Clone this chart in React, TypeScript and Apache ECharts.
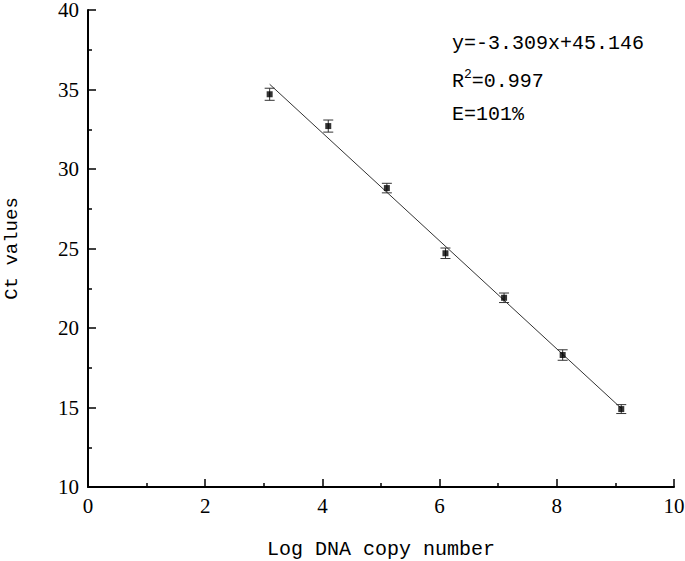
import React, { useEffect, useRef } from "react";
import * as echarts from "echarts";

const logCopies = [3.1, 4.1, 5.1, 6.1, 7.1, 8.1, 9.1];
const ctValues = [34.7, 32.7, 28.8, 24.7, 21.9, 18.3, 14.9];
const ctErrors = [0.38, 0.38, 0.3, 0.33, 0.3, 0.33, 0.28];
const fitX = [3.1, 9.1];
const fitY = [35.33, 14.95];
const annotationLines = ["y=-3.309x+45.146", "R2=0.997", "E=101%"];

export default function App() {
  const ref = useRef<HTMLDivElement>(null);
  useEffect(() => {
    if (!ref.current) return;
    const chart = echarts.init(ref.current, null, { renderer: "svg" });
    const points = logCopies.map((x, i) => [x, ctValues[i]]);
    const errData = logCopies.map((x, i) => [x, ctValues[i] - ctErrors[i], ctValues[i] + ctErrors[i]]);
    const monoFont = "Liberation Mono";
    const serifFont = "Liberation Serif";
    chart.setOption({
      animation: false,
      backgroundColor: "#ffffff",
      grid: { left: 88, top: 10, right: 11, bottom: 74, containLabel: false, outerBoundsMode: "none" },
      xAxis: {
        type: "value",
        min: 0,
        max: 10,
        interval: 2,
        name: "Log DNA copy number",
        nameLocation: "middle",
        nameGap: 52,
        nameTextStyle: { fontFamily: monoFont, fontSize: 20, color: "#000" },
        axisLine: { show: true, lineStyle: { color: "#000", width: 2 } },
        axisTick: { show: true, inside: true, length: 8, lineStyle: { color: "#000", width: 1.5 } },
        minorTick: { show: true, splitNumber: 2, length: 4, lineStyle: { color: "#000", width: 1.5 } },
        axisLabel: { fontFamily: serifFont, fontSize: 21, color: "#000", margin: 8 },
        splitLine: { show: false },
      },
      yAxis: {
        type: "value",
        min: 10,
        max: 40,
        interval: 5,
        name: "Ct values",
        nameLocation: "middle",
        nameGap: 67,
        nameRotate: 90,
        nameTextStyle: { fontFamily: monoFont, fontSize: 19, color: "#000" },
        axisLine: { show: true, lineStyle: { color: "#000", width: 2 } },
        axisTick: { show: true, inside: true, length: 8, lineStyle: { color: "#000", width: 1.5 } },
        minorTick: { show: true, splitNumber: 2, length: 4, lineStyle: { color: "#000", width: 1.5 } },
        axisLabel: { fontFamily: serifFont, fontSize: 21, lineHeight: 18, color: "#000", margin: 9 },
        splitLine: { show: false },
      },
      graphic: [
        {
          type: "text",
          left: 452,
          top: 33,
          style: {
            text: annotationLines[0],
            fontFamily: monoFont,
            fontSize: 20,
            fill: "#000",
          },
        },
        {
          type: "text",
          left: 452,
          top: 68,
          style: {
            text: "{b|R}{s|2}{b|=0.997}",
            rich: {
              b: { fontFamily: monoFont, fontSize: 20, fill: "#000", color: "#000", verticalAlign: "bottom" },
              s: { fontFamily: monoFont, fontSize: 13, fill: "#000", color: "#000", verticalAlign: "top", padding: [0, 0, 10, 0] },
            },
          },
        },
        {
          type: "text",
          left: 452,
          top: 104,
          style: {
            text: annotationLines[2],
            fontFamily: monoFont,
            fontSize: 20,
            fill: "#000",
          },
        },
      ],
      series: [
        {
          type: "line",
          data: fitX.map((x, i) => [x, fitY[i]]),
          showSymbol: false,
          symbol: "none",
          lineStyle: { color: "#333", width: 1 },
          z: 2,
        },
        {
          type: "custom",
          data: errData,
          z: 3,
          renderItem: (params: any, api: any) => {
            const x = api.value(0);
            const lo = api.coord([x, api.value(1)]);
            const hi = api.coord([x, api.value(2)]);
            const w = 5;
            const st = { stroke: "#333", lineWidth: 1 };
            return {
              type: "group",
              children: [
                { type: "line", shape: { x1: lo[0], y1: lo[1], x2: hi[0], y2: hi[1] }, style: st },
                { type: "line", shape: { x1: lo[0] - w, y1: lo[1], x2: lo[0] + w, y2: lo[1] }, style: st },
                { type: "line", shape: { x1: hi[0] - w, y1: hi[1], x2: hi[0] + w, y2: hi[1] }, style: st },
              ],
            };
          },
        },
        {
          type: "scatter",
          data: points,
          symbol: "rect",
          symbolSize: 6,
          itemStyle: { color: "#000" },
          z: 4,
        },
      ],
    });
    return () => chart.dispose();
  }, []);
  return <div ref={ref} style={{ width: 685, height: 561, position: "absolute", left: 0, top: 0 }} />;
}
